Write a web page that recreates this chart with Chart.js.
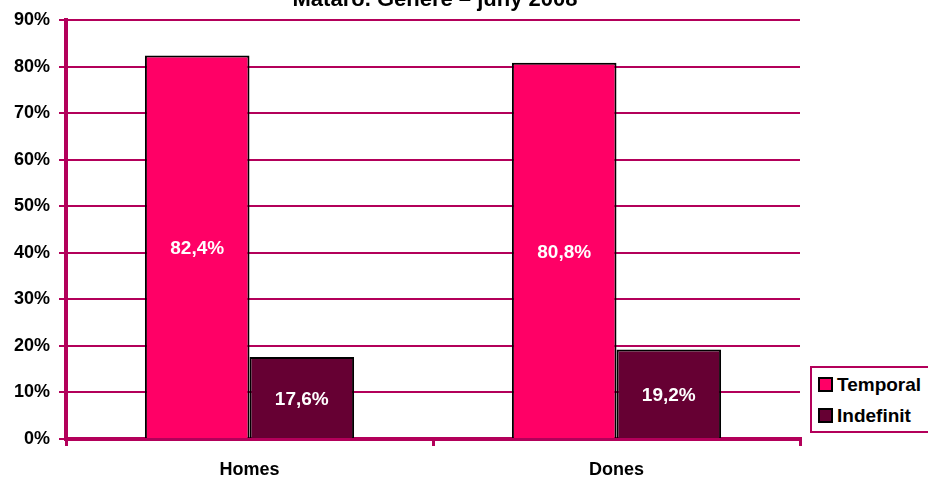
<!DOCTYPE html>
<html>
<head>
<meta charset="utf-8">
<script src="https://cdn.jsdelivr.net/npm/chart.js@4/dist/chart.umd.min.js"></script>
<style>
  body { margin: 0; background: #fff; overflow: hidden; }
  #wrap { position: relative; width: 928px; height: 479px; }
  #legend {
    position: absolute; left: 810px; top: 366px; width: 130px; height: 63px;
    border: 2px solid #B3005A; background: #fff;
    font: bold 19px "Liberation Sans", Arial, sans-serif; color: #000;
  }
  #legend div { position: absolute; left: 6px; height: 20px; line-height: 20px; }
  #legend span {
    display: inline-block; width: 11px; height: 11px; border: 2px solid #000;
    vertical-align: -1px; margin-right: 4px;
  }
</style>
</head>
<body>
<div id="wrap">
  <canvas id="myChart" width="928" height="479"></canvas>
  <div id="legend"></div>
</div>
<script>
const categories = ['Homes', 'Dones']
const temporal = [82.4, 80.8]
const indefinit = [17.6, 19.2]
const seriesNames = ['Temporal', 'Indefinit']
const yTicks = [0, 10, 20, 30, 40, 50, 60, 70, 80, 90]
const titleText = 'Mataró. Gènere – juny 2008'

const colors = ['#FF0066', '#660033']
const gridColor = '#B3005A'
const font = '"Liberation Sans", Arial, sans-serif'

var ctx = document.getElementById('myChart').getContext('2d')

// value labels in the middle of each bar
const barLabels = {
  id: 'barLabels',
  afterDatasetsDraw(chart) {
    const c = chart.ctx
    c.save()
    c.fillStyle = '#fff'
    c.font = 'bold 19px ' + font
    c.textAlign = 'center'
    c.textBaseline = 'middle'
    chart.data.datasets.forEach((ds, i) => {
      chart.getDatasetMeta(i).data.forEach((bar, j) => {
        const txt = ds.data[j].toFixed(1).replace('.', ',') + '%'
        c.fillText(txt, bar.x, (bar.y + bar.base) / 2 + 2)
      })
    })
    c.restore()
  }
}

// title sits partly above the top edge
const topTitle = {
  id: 'topTitle',
  afterDraw(chart) {
    const c = chart.ctx
    const area = chart.chartArea
    c.save()
    c.fillStyle = '#000'
    c.font = 'bold 22px ' + font
    c.textAlign = 'center'
    c.textBaseline = 'alphabetic'
    c.fillText(titleText, (area.left + area.right) / 2 + 2, 6)
    c.restore()
  }
}

var config = {
  type: 'bar',
  data: {
    labels: categories,
    datasets: [{
      label: seriesNames[0],
      data: temporal,
      backgroundColor: colors[0],
      borderColor: '#000',
      borderWidth: 2
    }, {
      label: seriesNames[1],
      data: indefinit,
      backgroundColor: colors[1],
      borderColor: '#000',
      borderWidth: 2
    }]
  },
  options: {
    responsive: false,
    animation: false,
    layout: { padding: { top: 20, right: 128, left: 0, bottom: 0 } },
    datasets: { bar: { categoryPercentage: 0.57, barPercentage: 1 } },
    plugins: {
      legend: { display: false },
      tooltip: { enabled: false }
    },
    scales: {
      x: {
        grid: {
          offset: true, drawOnChartArea: false, drawTicks: true,
          tickLength: 7, color: gridColor, lineWidth: 3
        },
        border: { color: gridColor, width: 4 },
        ticks: {
          color: '#000', padding: 13,
          font: { family: font, size: 18, weight: 'bold' }
        },
        afterFit(scale) { scale.height = 40 }
      },
      y: {
        min: 0,
        max: 90,
        afterBuildTicks(scale) { scale.ticks = yTicks.map(v => ({ value: v })) },
        grid: { color: gridColor, lineWidth: 2, drawTicks: true, tickLength: 7 },
        border: { color: gridColor, width: 4 },
        ticks: {
          color: '#000', padding: 9,
          font: { family: font, size: 18, weight: 'bold' },
          callback: v => v + '%'
        },
        afterFit(scale) { scale.width = 66 }
      }
    }
  },
  plugins: [barLabels, topTitle]
}

var myChart = new Chart(ctx, config)

const legend = document.getElementById('legend')
seriesNames.forEach((name, i) => {
  const item = document.createElement('div')
  item.style.top = (i === 0 ? 7 : 38) + 'px'
  item.innerHTML = '<span style="background:' + colors[i] + '"></span>' + name
  legend.appendChild(item)
})
</script>
</body>
</html>
